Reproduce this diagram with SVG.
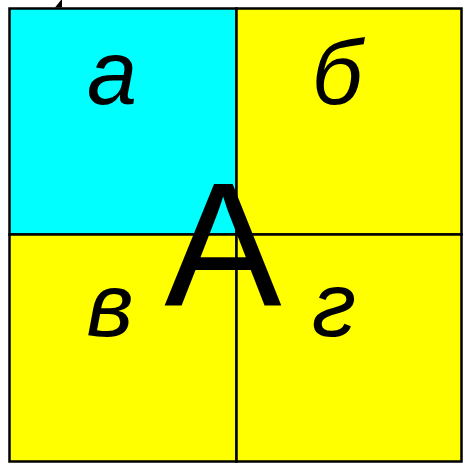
<svg xmlns="http://www.w3.org/2000/svg" width="463" height="469" viewBox="0 0 463 469">
<style>
.cell{stroke:#000;stroke-width:2.5}
.lbl{font-family:"Liberation Sans",Arial,sans-serif;font-style:italic;font-size:90px;fill:#000;text-anchor:middle}
.big{font-family:"Liberation Sans",Arial,sans-serif;font-size:176px;fill:#000;text-anchor:middle}
</style>
<rect width="463" height="469" fill="#fff"/>
<g id="connectors">
<path d="M55,7.5 L61,0 L62,0 L62,7.5 Z" fill="#000"/>
</g>
<g id="cell-a">
<rect class="cell" x="9.5" y="8.5" width="227" height="226" fill="#00FFFF"/>
<text class="lbl" x="112" y="104">а</text>
</g>
<g id="cell-b">
<rect class="cell" x="236.5" y="8.5" width="225" height="226" fill="#FFFF00"/>
<text class="lbl" x="337" y="104">б</text>
</g>
<g id="cell-v">
<rect class="cell" x="9.5" y="234.5" width="227" height="227" fill="#FFFF00"/>
<text class="lbl" x="110" y="336">в</text>
</g>
<g id="cell-g">
<rect class="cell" x="236.5" y="234.5" width="225" height="227" fill="#FFFF00"/>
<text class="lbl" x="334" y="336">г</text>
</g>
<g id="label-A">
<text class="big" x="223" y="306">А</text>
</g>
</svg>
